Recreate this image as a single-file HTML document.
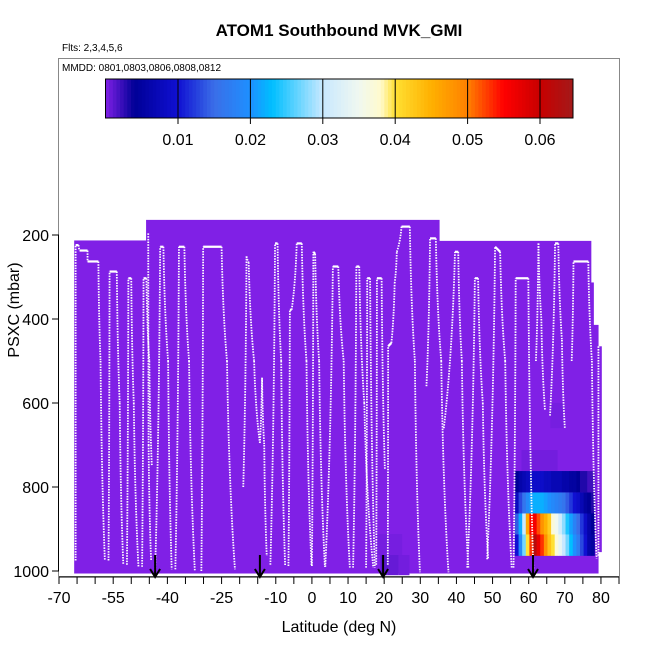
<!DOCTYPE html>
<html><head><meta charset="utf-8"><style>
body{margin:0;background:#fff}
svg text{font-family:"Liberation Sans",sans-serif}
</style></head><body>
<svg id="c" width="650" height="650" xmlns="http://www.w3.org/2000/svg">
<rect width="650" height="650" fill="#fff"/>
<text x="339" y="36" font-size="17" font-weight="bold" text-anchor="middle">ATOM1 Southbound MVK_GMI</text>
<text x="62" y="51" font-size="10">Flts: 2,3,4,5,6</text>
<rect x="58.5" y="58.5" width="561" height="518" fill="none" stroke="#888"/>
<text x="62" y="71" font-size="10">MMDD: 0801,0803,0806,0808,0812</text>
<g id="bg"></g>
<g id="heat"></g>
<g id="tracks"></g>
<g id="arrows"></g>
<g id="cbar"></g>
<g id="axes"></g>
<text x="339" y="632" font-size="16" text-anchor="middle">Latitude (deg N)</text>
<text transform="translate(19,310) rotate(-90)" font-size="16" text-anchor="middle">PSXC (mbar)</text>
</svg>
<script>
const xTicks=[-70,-65,-60,-55,-50,-45,-40,-35,-30,-25,-20,-15,-10,-5,0,5,10,15,20,25,30,35,40,45,50,55,60,65,70,75,80,85];
const xTickLabels=[-70,-55,-40,-25,-10,0,10,20,30,40,50,60,70,80];
const yTicks=[200,400,600,800,1000];
const cbTicks=[0.01,0.02,0.03,0.04,0.05,0.06];
const regionLat=[-65.8,-45.9,35.2,77.2,77.9,79.2,80.1];
const regionTop=[213,164,214,313,414,465];
const regionBottom=[1006,1006,1006,1006,1006,955];
const heatLat0=56.2, heatDLat=1.0;
const heatP=[787,838,888,938];
const heatRows=[
[0.004,0.006,0.007,0.008,0.009,0.009,0.009,0.009,0.008,0.008,0.007,0.007,0.007,0.006,0.006,0.005,0.005,0.004,0.003,0.003,0.002,0.002],
[0.008,0.013,0.016,0.019,0.021,0.022,0.022,0.022,0.021,0.02,0.019,0.018,0.017,0.016,0.014,0.012,0.01,0.009,0.007,0.005,0.004,0.003],
[0.014,0.022,0.03,0.046,0.055,0.056,0.052,0.048,0.045,0.042,0.037,0.035,0.031,0.028,0.024,0.021,0.018,0.015,0.012,0.009,0.006,0.004],
[0.01,0.019,0.027,0.04,0.053,0.062,0.057,0.053,0.048,0.043,0.04,0.037,0.034,0.03,0.027,0.023,0.02,0.017,0.013,0.01,0.006,0.005]];
const faintCells=[[18,25,912,962,0.0003],[19,21,962,1010,0.0012],[21,24,962,1010,0.0008],[24,27,962,1010,0.0004],[58,68,712,762,0.0004],[66,70,600,660,0.0003]];
const dives=[
[[-65.4,975],[-65.4,224],[-64.6,224],[-64.3,237],[-62.1,237],[-62.1,263],[-59.1,263],[-58.5,500],[-57.3,975]],
[[-56.3,975],[-56.0,287],[-54.0,287],[-53.2,600],[-52.2,985]],
[[-51.2,985],[-50.8,303],[-50.0,303],[-49.3,600],[-48.0,990]],
[[-47.0,990],[-46.6,303],[-45.8,303],[-45.0,500],[-44.3,750]],
[[-45.3,196],[-45.2,700],[-44.5,975]],
[[-43.4,1000],[-42.0,228],[-41.1,228],[-39.8,500],[-38.8,996]],
[[-37.8,996],[-36.8,228],[-35.3,228],[-34.0,500],[-32.4,1000]],
[[-30.6,1000],[-30.1,228],[-25.0,228],[-23.5,500],[-21.3,996]],
[[-19.0,800],[-18.1,251],[-17.5,265],[-16.0,500],[-14.4,695],[-13.8,540],[-13.2,700],[-12.5,964]],
[[-11.5,985],[-10.2,220],[-9.5,220],[-8.5,500],[-7.4,988]],
[[-6.5,988],[-6.1,378],[-5.6,378],[-4.2,220],[-2.8,220],[-1.5,500],[-0.1,988]],
[[0.0,988],[0.4,240],[0.9,245],[2.0,500],[3.6,990]],
[[3.7,990],[5.8,275],[7.3,275],[8.8,500],[10.5,992]],
[[11.4,992],[12.3,275],[13.1,275],[14.5,600],[17.0,992]],
[[15.0,992],[15.3,303],[16.1,303],[17.4,992]],
[[17.8,985],[18.0,303],[19.3,303],[20.2,758]],
[[21.0,985],[21.1,465],[22.0,457],[22.9,315],[23.5,240],[24.8,180],[27.1,180],[28.5,500],[29.9,1003]],
[[31.7,560],[32.7,208],[34.3,208],[35.8,500],[37.8,1003]],
[[36.5,660],[39.6,240],[40.5,240],[41.5,500],[43.3,992]],
[[43.0,992],[45.1,303],[46.0,303],[47.3,600],[48.8,972]],
[[48.5,972],[50.7,228],[52.1,240],[53.5,500],[55.3,992]],
[[55.8,992],[56.4,303],[59.9,303],[61.3,996]],
[[62.0,500],[62.7,220],[63.5,400],[64.5,616]],
[[65.9,630],[67.3,220],[68.2,220],[69.2,450],[70.0,659]],
[[71.9,500],[72.4,263],[76.5,263],[77.5,500],[78.8,970]],
[[79.3,465],[79.3,965]]];
const arrowLats=[-43.4,-14.4,19.7,61.2];
const cStops=[[0,[128,32,230]],[0.004,[0,0,150]],[0.01,[16,16,210]],[0.015,[58,110,232]],[0.02,[30,144,255]],[0.023,[0,191,255]],[0.03,[200,232,255]],[0.035,[240,248,240]],[0.038,[255,250,205]],[0.04,[255,224,51]],[0.045,[255,176,0]],[0.05,[255,128,0]],[0.055,[255,0,0]],[0.06,[200,0,0]],[0.065,[160,28,28]]];
const NS="http://www.w3.org/2000/svg";
const X=lat=>59+(lat+70)*3.613;
const Y=p=>235+(p-200)*0.42;
const CX=v=>105.6+v*7240;
function col(v){
  if(v<=0)return 'rgb(128,32,230)';
  for(let i=1;i<cStops.length;i++){if(v<=cStops[i][0]){const a=cStops[i-1],b=cStops[i],t=(v-a[0])/(b[0]-a[0]);
    return 'rgb('+a[1].map((c,k)=>Math.round(c+(b[1][k]-c)*t)).join(',')+')';}}
  return 'rgb(160,28,28)';}
function mk(tag,attrs,parent){const e=document.createElementNS(NS,tag);for(const k in attrs)e.setAttribute(k,attrs[k]);parent.appendChild(e);return e;}
const bg=document.getElementById('bg');
for(let i=0;i<regionTop.length;i++){
  const r=mk('rect',{x:X(regionLat[i]),y:Y(regionTop[i]),width:X(regionLat[i+1])-X(regionLat[i])+0.5,height:Y(regionBottom[i])-Y(regionTop[i]),fill:col(0)},bg);
  
  
}
const heat=document.getElementById('heat');
faintCells.forEach(c=>{
  const r=mk('rect',{x:X(c[0]),y:Y(c[2]),width:X(c[1])-X(c[0]),height:Y(c[3])-Y(c[2]),fill:col(c[4])},heat);
  
  
});
heatRows.forEach((row,ri)=>row.forEach((v,ci)=>{
  const l=heatLat0+ci*heatDLat;
  const r=mk('rect',{x:X(l),y:Y(heatP[ri]-25),width:X(l+heatDLat)-X(l)+0.4,height:Y(heatP[ri]+25)-Y(heatP[ri]-25)+0.4,fill:col(v)},heat);
  
  
}));
const tr=document.getElementById('tracks');
dives.forEach(d=>{
  for(let i=0;i<d.length-1;i++){
    const a=d[i],b=d[i+1];
    const x1=X(a[0]),y1=Y(a[1]),x2=X(b[0]),y2=Y(b[1]);
    const flat=Math.abs(y2-y1)<Math.abs(x2-x1)*1.5;
    let dstr;
    if(flat){dstr=`M${x1},${y1} L${x2},${y2}`;}
    else if(y2>y1){ // descending: curve, steep near bottom
      dstr=`M${x1},${y1} Q${x1+(x2-x1)*0.25},${y1+(y2-y1)*0.6} ${x2},${y2}`;
    } else {
      dstr=`M${x1},${y1} Q${x2-(x2-x1)*0.25},${y2+(y1-y2)*0.6} ${x2},${y2}`;
    }
    const pl=mk('path',{d:dstr,fill:'none',stroke:'#fff','stroke-width':flat?2.2:1.8},tr);
    if(!flat)pl.setAttribute('stroke-dasharray','1.5 1.2');
    
    
  }
});
const ar=document.getElementById('arrows');
arrowLats.forEach(l=>{
  const g=mk('path',{d:`M${X(l)},555 V576 M${X(l)-5},569 L${X(l)},577 L${X(l)+5},569`,stroke:'#000','stroke-width':2,fill:'none'},ar);
  
  
});
const cb=document.getElementById('cbar');
const cbEnd=573;
for(let v=0;CX(v)<cbEnd;v+=0.0005){
  const x0=CX(v), w=Math.min(0.0005*7240+0.5,cbEnd-x0);
  mk('rect',{x:x0,y:79,width:w,height:39,fill:col(v+0.00025)},cb);
}
mk('rect',{x:105.5,y:79,width:cbEnd-105.5,height:39,fill:'none',stroke:'#000','stroke-width':1},cb);
cbTicks.forEach(t=>{
  mk('line',{x1:CX(t),x2:CX(t),y1:79,y2:124,stroke:'#000','stroke-width':1},cb);
  const tx=mk('text',{x:CX(t),y:145,'font-size':16,'text-anchor':'middle'},cb);
  tx.textContent=t.toFixed(2);
  
  
});
const ax=document.getElementById('axes');
mk('line',{x1:X(-70),x2:X(85),y1:577,y2:577,stroke:'#000','stroke-width':1},ax);
xTicks.forEach(t=>mk('line',{x1:X(t),x2:X(t),y1:577,y2:584,stroke:'#000'},ax));
xTickLabels.forEach(t=>{
  const tx=mk('text',{x:X(t),y:603,'font-size':16,'text-anchor':'middle'},ax);
  tx.textContent=t;
  
  
});
mk('line',{x1:58.5,x2:58.5,y1:Y(200),y2:Y(1000),stroke:'#000'},ax);
yTicks.forEach(t=>{
  mk('line',{x1:52,x2:59,y1:Y(t),y2:Y(t),stroke:'#000'},ax);
  const tx=mk('text',{x:49,y:Y(t)+6,'font-size':16,'text-anchor':'end'},ax);
  tx.textContent=t;
  
  
});
</script>
</body></html>
